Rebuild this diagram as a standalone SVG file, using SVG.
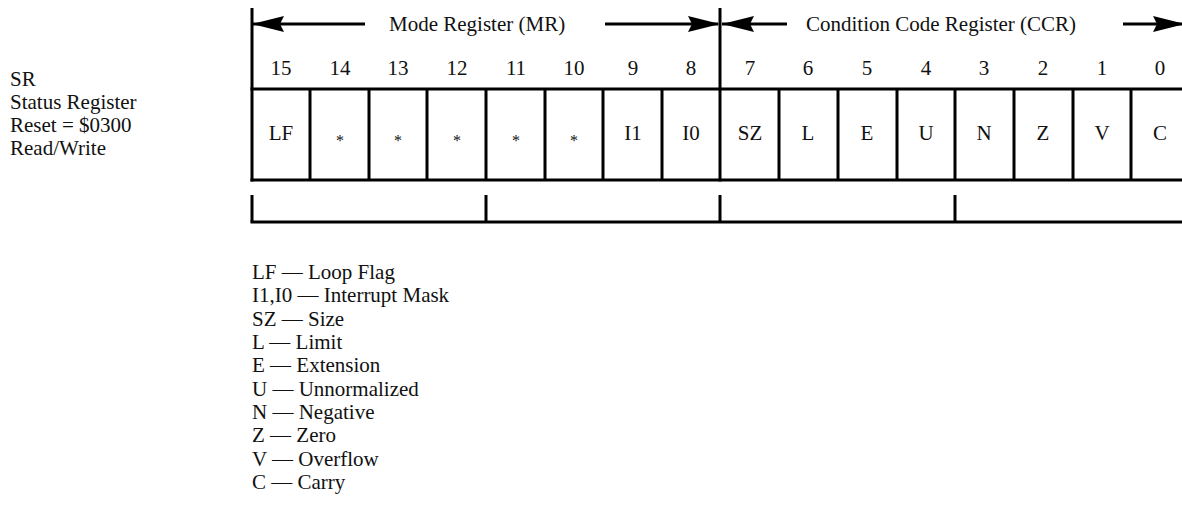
<svg xmlns="http://www.w3.org/2000/svg" width="1182" height="519" viewBox="0 0 1182 519">
<style>
text { font-family: "Liberation Serif", "Times New Roman", serif; font-size: 21px; fill: #111; }
.c { text-anchor: middle; }
.star { font-size: 16px; }
.ln { stroke: #000; stroke-width: 3; fill: none; }
.ah { fill: #000; }
</style>
<defs>
<path id="ahL" d="M0,0 L32,-8 L28,0 L32,8 Z"/>
</defs>
<g id="sr-label">
<text x="10" y="86">SR</text>
<text x="10" y="109">Status Register</text>
<text x="10" y="132">Reset = $0300</text>
<text x="10" y="155">Read/Write</text>
</g>
<g id="connectors">
<line class="ln" x1="252" y1="24" x2="365" y2="24"/>
<line class="ln" x1="605" y1="24" x2="718" y2="24"/>
<use href="#ahL" class="ah" transform="translate(252,24)"/>
<use href="#ahL" class="ah" transform="translate(720,24) scale(-1,1)"/>
<line class="ln" x1="722" y1="24" x2="787" y2="24"/>
<line class="ln" x1="1123" y1="24" x2="1182" y2="24"/>
<use href="#ahL" class="ah" transform="translate(722,24)"/>
<use href="#ahL" class="ah" transform="translate(1185,24) scale(-1,1)"/>
</g>
<g id="headers">
<text x="389" y="31">Mode Register (MR)</text>
<text x="806" y="31">Condition Code Register (CCR)</text>
</g>
<g id="register">
<line class="ln" x1="252" y1="8" x2="252" y2="181.5"/>
<line class="ln" x1="720" y1="8" x2="720" y2="181.5"/>
<line class="ln" x1="250.5" y1="89" x2="1182" y2="89"/>
<line class="ln" x1="250.5" y1="180" x2="1182" y2="180"/>
<path class="ln" d="M310,89V180M369,89V180M427,89V180M486,89V180M545,89V180M603,89V180M662,89V180M779,89V180M838,89V180M897,89V180M955,89V180M1014,89V180M1073,89V180M1131,89V180"/>
</g>
<g id="bit-numbers">
<text class="c" x="281" y="75">15</text>
<text class="c" x="340" y="75">14</text>
<text class="c" x="398" y="75">13</text>
<text class="c" x="457" y="75">12</text>
<text class="c" x="516" y="75">11</text>
<text class="c" x="574" y="75">10</text>
<text class="c" x="633" y="75">9</text>
<text class="c" x="691" y="75">8</text>
<text class="c" x="750" y="75">7</text>
<text class="c" x="808" y="75">6</text>
<text class="c" x="867" y="75">5</text>
<text class="c" x="926" y="75">4</text>
<text class="c" x="984" y="75">3</text>
<text class="c" x="1043" y="75">2</text>
<text class="c" x="1102" y="75">1</text>
<text class="c" x="1160" y="75">0</text>
</g>
<g id="bit-fields">
<text class="c" x="281" y="140">LF</text>
<text class="c star" x="340" y="146">*</text>
<text class="c star" x="398" y="146">*</text>
<text class="c star" x="457" y="146">*</text>
<text class="c star" x="516" y="146">*</text>
<text class="c star" x="574" y="146">*</text>
<text class="c" x="633" y="140">I1</text>
<text class="c" x="691" y="140">I0</text>
<text class="c" x="750" y="140">SZ</text>
<text class="c" x="808" y="140">L</text>
<text class="c" x="867" y="140">E</text>
<text class="c" x="926" y="140">U</text>
<text class="c" x="984" y="140">N</text>
<text class="c" x="1043" y="140">Z</text>
<text class="c" x="1102" y="140">V</text>
<text class="c" x="1160" y="140">C</text>
</g>
<g id="bracket">
<line class="ln" x1="250.5" y1="222" x2="1182" y2="222"/>
<path class="ln" d="M252,195V222M486,195V222M720,195V222M955,195V222"/>
</g>
<g id="legend">
<text x="252" y="279">LF — Loop Flag</text>
<text x="252" y="302">I1,I0 — Interrupt Mask</text>
<text x="252" y="326">SZ — Size</text>
<text x="252" y="349">L — Limit</text>
<text x="252" y="372">E — Extension</text>
<text x="252" y="396">U — Unnormalized</text>
<text x="252" y="419">N — Negative</text>
<text x="252" y="442">Z — Zero</text>
<text x="252" y="466">V — Overflow</text>
<text x="252" y="489">C — Carry</text>
</g>
</svg>
